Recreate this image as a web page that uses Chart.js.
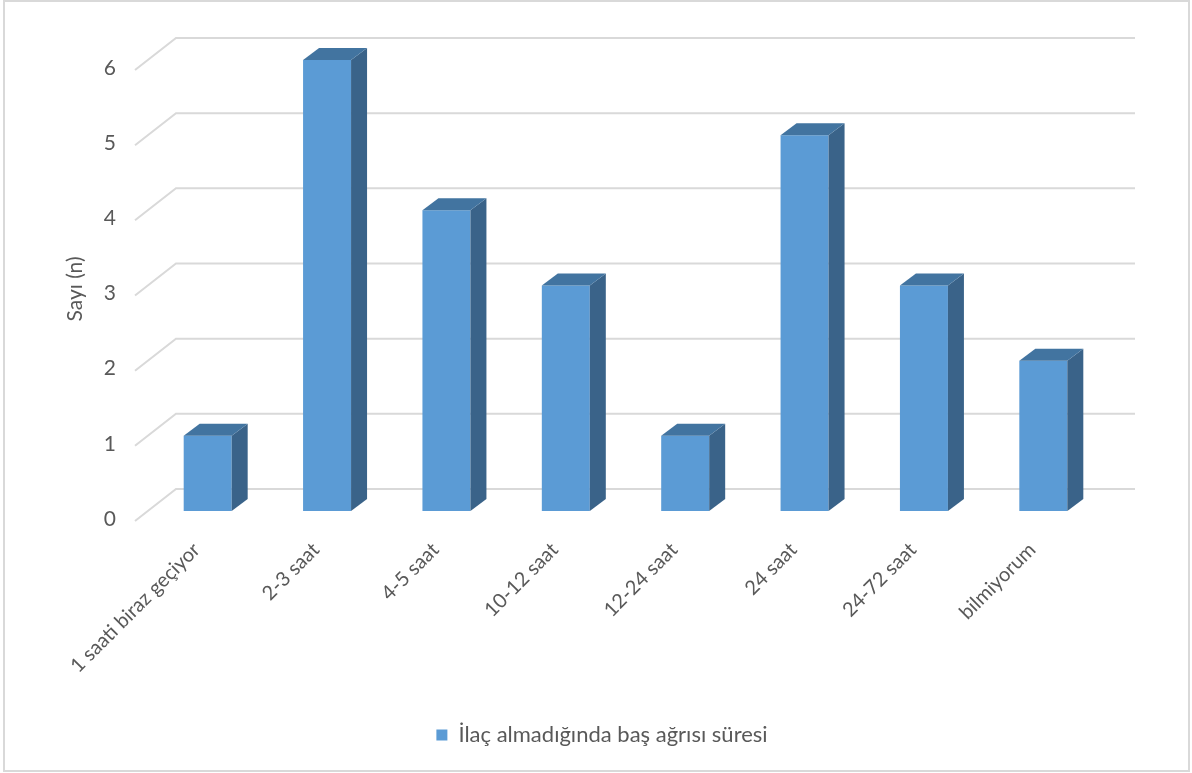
<!DOCTYPE html>
<html>
<head>
<meta charset="utf-8">
<script src="https://cdn.jsdelivr.net/npm/chart.js@4"></script>
<style>
  html, body { margin: 0; padding: 0; background: #fff; }
  #wrap { width: 1192px; height: 773px; position: relative; }
</style>
</head>
<body>
<div id="wrap"><canvas id="chart" width="1192" height="773"></canvas></div>
<script>
const categories = ['1 saati biraz geçiyor', '2-3 saat', '4-5 saat', '10-12 saat', '12-24 saat', '24 saat', '24-72 saat', 'bilmiyorum'];
const counts = [1, 6, 4, 3, 1, 5, 3, 2];
const seriesName = 'İlaç almadığında baş ağrısı süresi';
const yTitle = 'Sayı (n)';

const FONT = 'Lato, "Open Sans", sans-serif';
const TEXT = '#595959';
const GRID = '#d9d9d9';
const FRONT = '#5b9bd5';
const TOP = '#4274a0';
const SIDE = '#3a6389';
const DX = 16, DY = 12;   // depth of the bar boxes

// back wall gridlines + floor edge, y labels and title
const wallPlugin = {
  id: 'wall',
  beforeDatasetsDraw(chart) {
    const ctx = chart.ctx;
    const ys = chart.scales.y;
    ctx.save();
    // outer frame
    ctx.strokeStyle = GRID;
    ctx.lineWidth = 2;
    ctx.strokeRect(4, 1, 1185, 770);

    ctx.lineWidth = 2;
    ctx.strokeStyle = GRID;
    ys.ticks.forEach(t => {
      const yf = ys.getPixelForValue(t.value);
      ctx.beginPath();
      ctx.moveTo(135, yf + 10);
      ctx.lineTo(176, yf - 22);
      ctx.lineTo(1135, yf - 22);
      ctx.stroke();
    });

    ctx.fillStyle = TEXT;
    ctx.font = '21px ' + FONT;
    ctx.textAlign = 'right';
    ctx.textBaseline = 'middle';
    ys.ticks.forEach(t => {
      const yf = ys.getPixelForValue(t.value);
      ctx.fillText(String(t.value), 116, yf + 8);
    });

    ctx.translate(75, 289);
    ctx.rotate(-Math.PI / 2);
    ctx.textAlign = 'center';
    ctx.fillText(yTitle, 0, 0);
    ctx.restore();
  },
  afterDatasetsDraw(chart) {
    const ctx = chart.ctx;
    ctx.save();
    chart.getDatasetMeta(0).data.forEach(bar => {
      const p = bar.getProps(['x', 'y', 'base', 'width'], true);
      const xl = p.x - p.width / 2, xr = p.x + p.width / 2;
      // side face
      ctx.fillStyle = SIDE;
      ctx.beginPath();
      ctx.moveTo(xr, p.base);
      ctx.lineTo(xr, p.y);
      ctx.lineTo(xr + DX, p.y - DY);
      ctx.lineTo(xr + DX, p.base - DY);
      ctx.closePath();
      ctx.fill();
      // top face
      ctx.fillStyle = TOP;
      ctx.beginPath();
      ctx.moveTo(xl, p.y);
      ctx.lineTo(xl + DX, p.y - DY);
      ctx.lineTo(xr + DX, p.y - DY);
      ctx.lineTo(xr, p.y);
      ctx.closePath();
      ctx.fill();
    });
    ctx.restore();
  }
};

new Chart(document.getElementById('chart'), {
  type: 'bar',
  data: {
    labels: categories,
    datasets: [{
      label: seriesName,
      data: counts,
      backgroundColor: FRONT,
      borderWidth: 0,
      categoryPercentage: 1,
      barPercentage: 0.402
    }]
  },
  options: {
    responsive: false,
    animation: false,
    layout: { padding: { left: 101, right: 89, top: 60, bottom: 17 } },
    plugins: {
      legend: {
        position: 'bottom',
        labels: { color: TEXT, font: { family: FONT, size: 22 }, boxWidth: 11, boxHeight: 11, padding: 10 }
      },
      tooltip: { enabled: false }
    },
    scales: {
      // kept in the layout only to reserve room for the hand-drawn axis labels
      y: {
        min: 0, max: 6,
        ticks: { stepSize: 1, display: false },
        grid: { display: false },
        border: { display: false },
        afterFit(scale) { scale.width = 47; }
      },
      x: {
        grid: { display: false },
        border: { display: false },
        ticks: { color: TEXT, font: { family: FONT, size: 20 }, maxRotation: 45, minRotation: 45, padding: 19, labelOffset: -11 },
        afterFit(scale) { scale.height = 203; }
      }
    }
  },
  plugins: [wallPlugin]
});
</script>
</body>
</html>
